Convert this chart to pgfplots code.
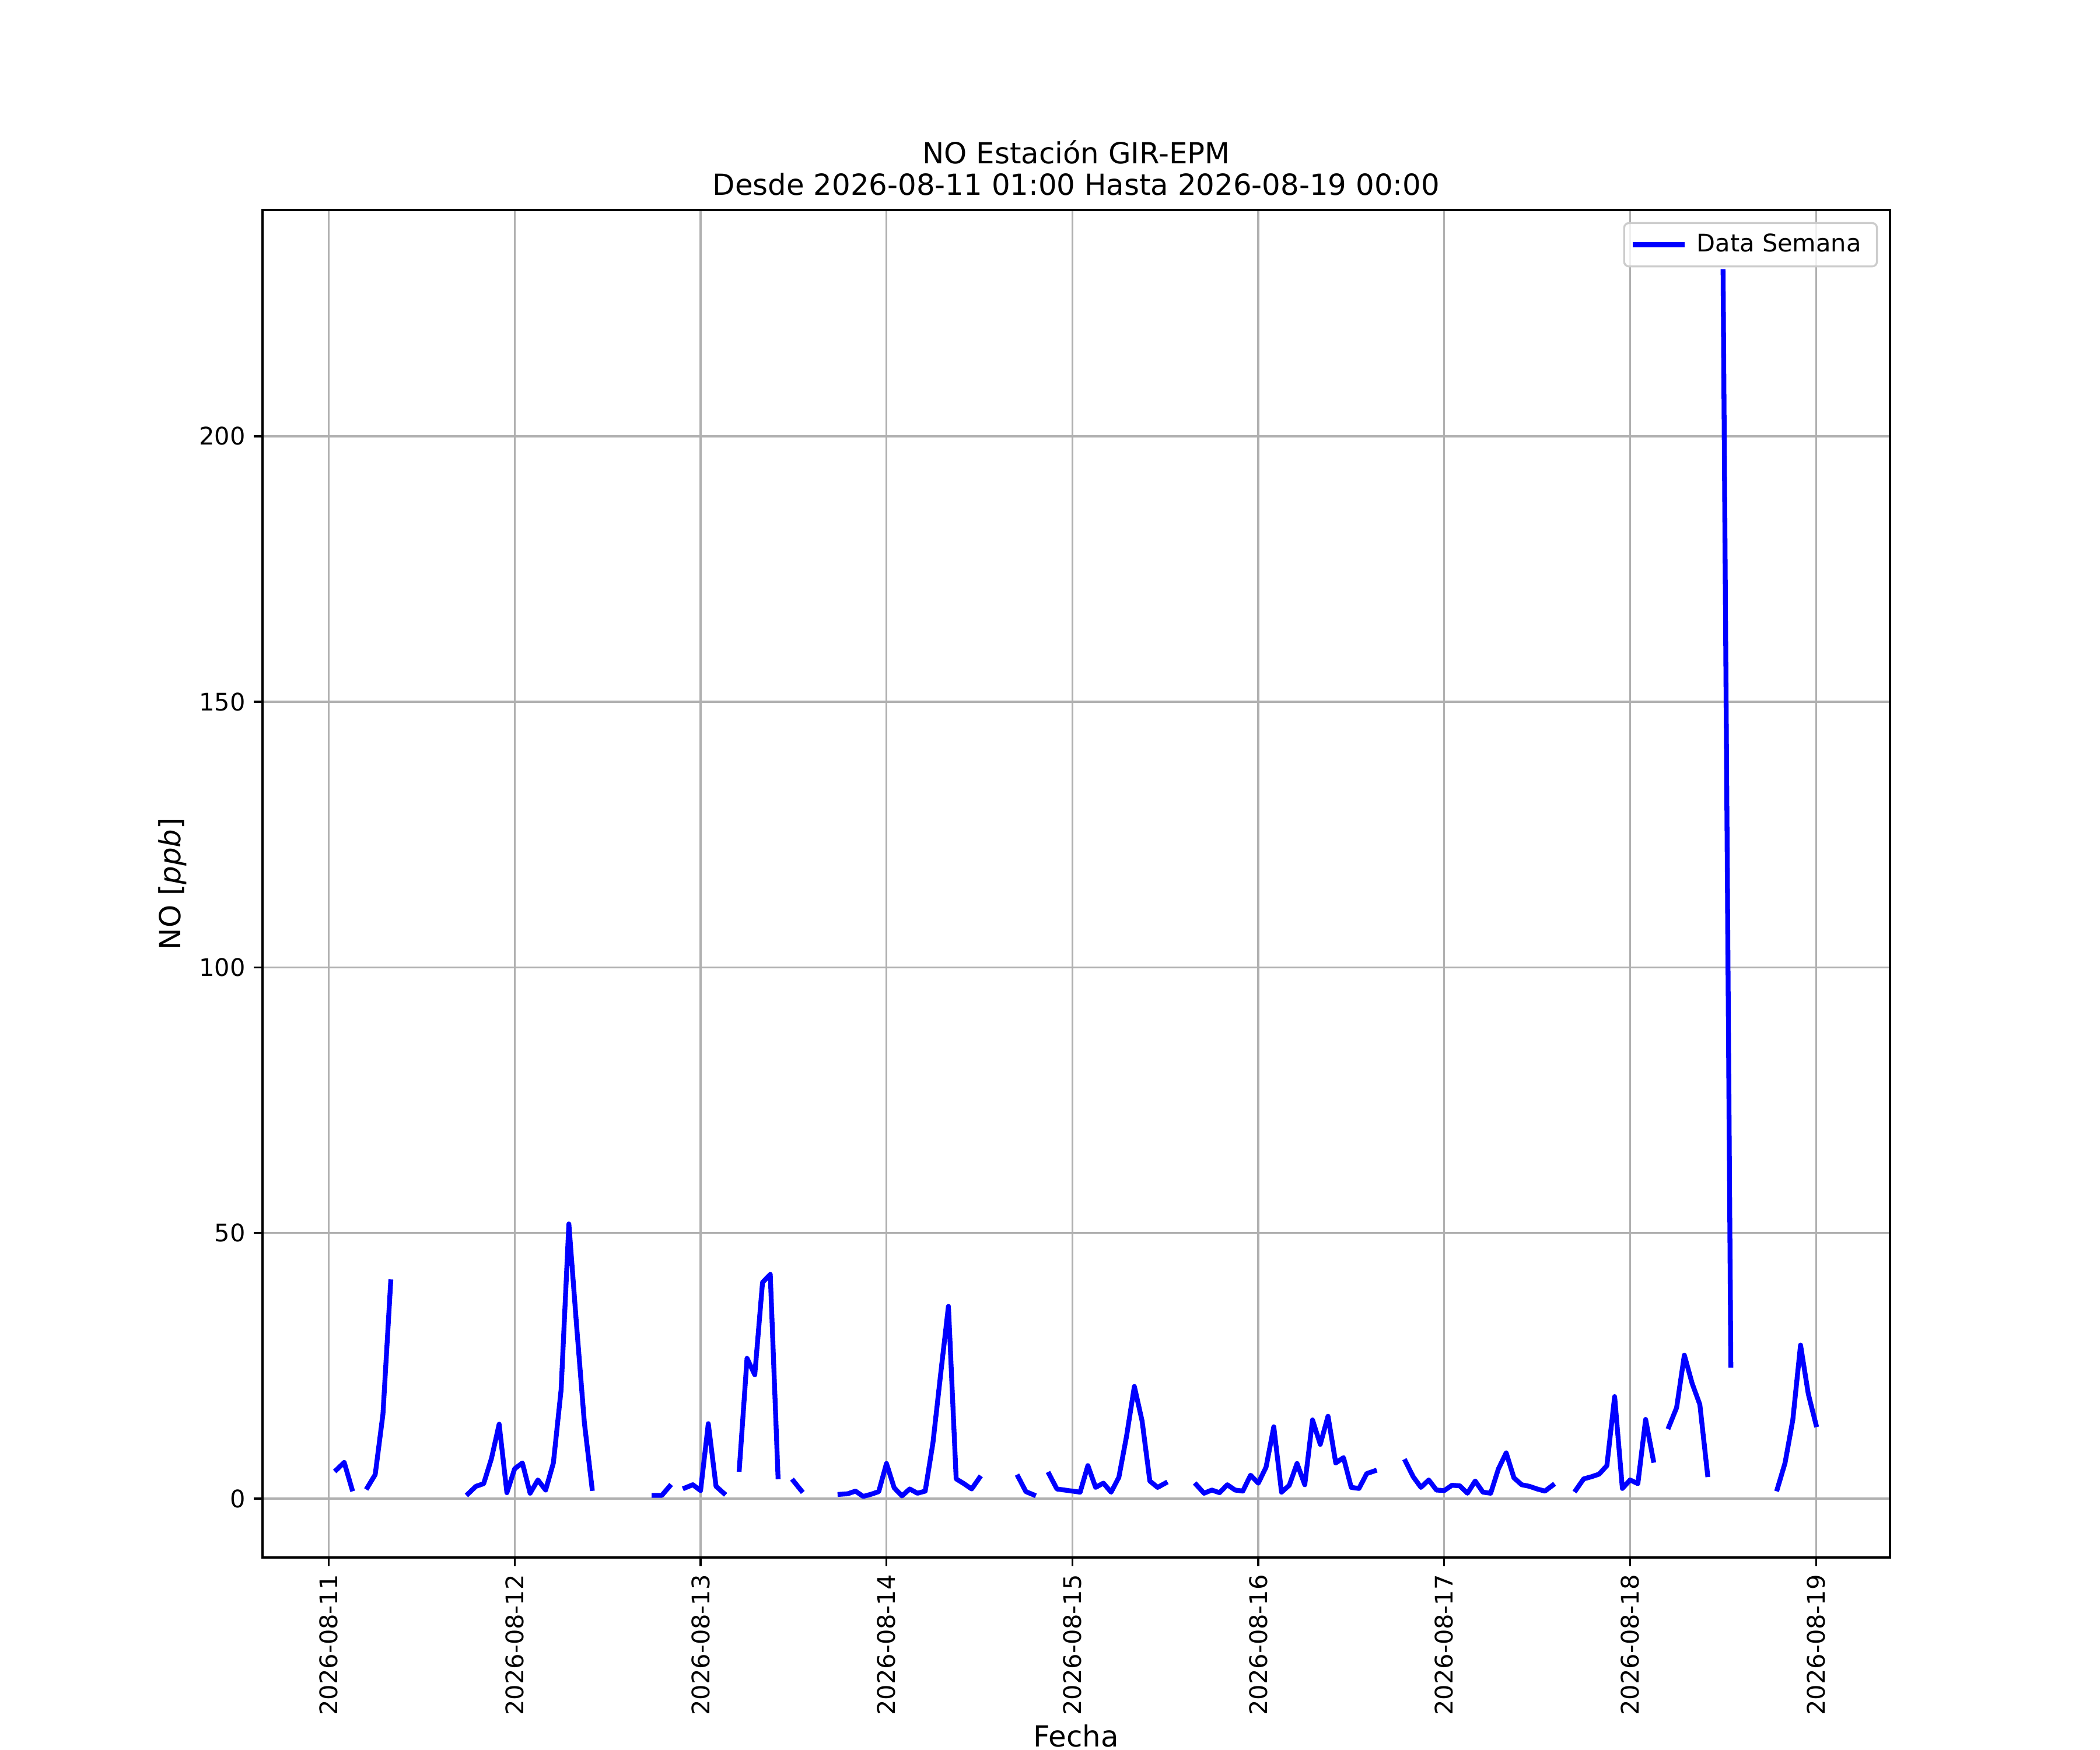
\documentclass[border=0pt]{standalone}
\usepackage{fontspec}
\setmainfont{DejaVu Sans}
\usepackage{pgfplots}
\usepackage{pgfplotstable}
\pgfplotsset{compat=1.18}
\definecolor{gridgray}{HTML}{B0B0B0}
\definecolor{legedge}{HTML}{CCCCCC}
\pgfplotstableread{
h v
1 5.4
2 6.8
3 1.8
4 nan
5 2.1
6 4.5
7 15.9
8 40.8
9 nan
17 nan
18 0.9
19 2.3
20 2.8
21 7.5
22 14.0
23 1.1
24 5.6
25 6.7
26 1.0
27 3.5
28 1.6
29 6.7
30 20.5
31 51.7
32 32.5
33 14.3
34 1.9
35 nan
41 nan
42 0.6
43 0.6
44 2.3
45 nan
46 2.0
47 2.6
48 1.5
49 14.1
50 2.3
51 1.0
52 nan
53 5.5
54 26.4
55 23.3
56 40.7
57 42.2
58 4.1
59 nan
60 3.3
61 1.5
62 nan
65 nan
66 0.8
67 0.9
68 1.4
69 0.4
70 0.8
71 1.3
72 6.6
73 2.0
74 0.5
75 1.8
76 1.0
77 1.4
78 10.5
79 23.5
80 36.2
81 3.7
82 2.8
83 1.8
84 3.9
85 nan
88 nan
89 4.1
90 1.3
91 0.7
92 nan
93 4.6
94 1.8
95 1.6
96 1.4
97 1.2
98 6.2
99 2.1
100 2.9
101 1.2
102 4.0
103 11.8
104 21.1
105 14.6
106 3.3
107 2.1
108 2.9
109 nan
111 nan
112 2.6
113 1.0
114 1.6
115 1.1
116 2.6
117 1.6
118 1.4
119 4.4
120 2.9
121 5.9
122 13.5
123 1.2
124 2.5
125 6.6
126 2.6
127 14.8
128 10.2
129 15.5
130 6.7
131 7.7
132 2.1
133 1.9
134 4.7
135 5.2
136 nan
138 nan
139 7.0
140 4.1
141 2.1
142 3.5
143 1.6
144 1.5
145 2.5
146 2.4
147 1.0
148 3.3
149 1.2
150 1.0
151 5.6
152 8.6
153 3.9
154 2.6
155 2.3
156 1.8
157 1.4
158 2.5
159 nan
160 nan
161 1.6
162 3.7
163 4.1
164 4.6
165 6.2
166 19.2
167 1.9
168 3.5
169 2.8
170 14.9
171 7.2
172 nan
173 13.5
174 17.1
175 27.0
176 21.7
177 17.7
178 4.5
179 nan
180 231.0
181 25.1
182 nan
186 nan
187 1.8
188 6.7
189 14.8
190 28.9
191 19.7
192 13.9
}\datatable
\begin{document}
\begin{tikzpicture}
\path[use as bounding box] (-1.5in,-1.1in) rectangle (10.5in,8.9in);
\begin{axis}[
  at={(0,0)}, anchor=south west,
  scale only axis, width=9.3in, height=7.7in,
  xmin=-8.55, xmax=201.55, ymin=-11.1, ymax=242.6,
  xtick={0,24,48,72,96,120,144,168,192},
  xticklabels={2026-08-11,2026-08-12,2026-08-13,2026-08-14,2026-08-15,2026-08-16,2026-08-17,2026-08-18,2026-08-19},
  ytick={0,50,100,150,200},
  grid=major,
  grid style={draw=gridgray, line width=0.8pt},
  axis line style={line width=0.8pt, black},
  tick align=outside, tick pos=left,
  major tick length=3.5pt,
  tick style={line width=0.8pt, black},
  /pgf/number format/assume math mode=true,
  xticklabel style={rotate=90, anchor=east, font=\fontsize{10}{12}\selectfont},
  yticklabel style={font=\fontsize{10}{12}\selectfont},
  xlabel={Fecha}, ylabel={NO [\textit{ppb}]},
  label style={font=\fontsize{12}{14}\selectfont},
  xlabel style={at={(axis description cs:0.5,0)}, anchor=base, yshift=-78.2pt},
  ylabel style={yshift=-1.7pt},
  title={NO Estación GIR-EPM\\Desde 2026-08-11 01:00 Hasta 2026-08-19 00:00},
  title style={align=center, font=\fontsize{12}{13}\selectfont, yshift=-3.5pt},
  legend style={at={(1,1)}, anchor=north east, xshift=-5pt, yshift=-5pt,
    draw=legedge, line width=0.8pt, rounded corners=2pt, fill=white, fill opacity=0.8, text opacity=1,
    font=\fontsize{10}{12}\selectfont, inner sep=2.5pt,
    nodes={inner xsep=4pt}},
  legend cell align=left,
  legend image code/.code={\draw[#1, line width=2pt, line cap=butt] (0pt,0pt) -- (21.5pt,0pt);},
  unbounded coords=jump,
]
\addplot[blue, line width=2pt, line join=round, line cap=rect] table[x=h, y=v] {\datatable};
\addlegendentry{Data Semana}
\end{axis}
\end{tikzpicture}
\end{document}
